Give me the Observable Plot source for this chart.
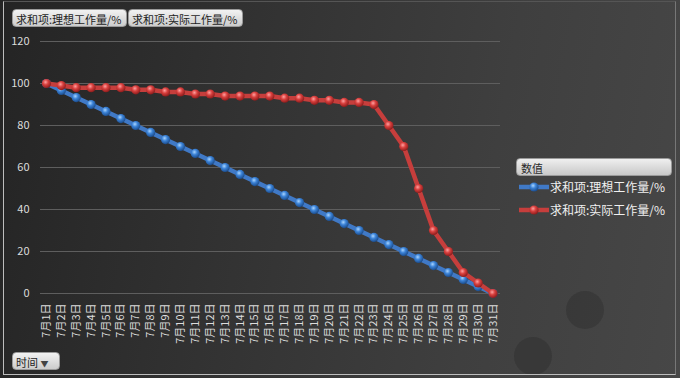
<!DOCTYPE html>
<html>
<head>
<meta charset="utf-8">
<script src="https://cdn.jsdelivr.net/npm/d3@7"></script>
<script src="https://cdn.jsdelivr.net/npm/@observablehq/plot@0.6"></script>
<style>
  html, body { margin: 0; padding: 0; background: #2a2a2a; }
  #wrap {
    position: relative; width: 680px; height: 378px; overflow: hidden;
    background: linear-gradient(100deg, #242424 0%, #323232 35%, #3f3f3f 70%, #474747 100%);
    font-family: "Noto Sans CJK SC", "Noto Sans", sans-serif;
  }
  #frame { position: absolute; left: 3px; top: 1px; width: 673px; height: 374px; border: 1px solid #bdbdbd; border-top-color: #555; border-right-color: #777; box-sizing: border-box; pointer-events: none; }
  .bubble { position: absolute; border-radius: 50%; background: rgba(20,20,20,0.2); }
  .btn {
    position: absolute; height: 18px; line-height: 18px; font-size: 11px; color: #1e1e1e;
    background: linear-gradient(#f2f2f2, #cccccc); border: 1px solid #9a9a9a; border-radius: 4px;
    padding: 0 3px; box-sizing: border-box; white-space: nowrap;
  }
  #legend { position: absolute; left: 516px; top: 158px; width: 156px; }
  #legend .head {
    height: 18px; line-height: 18px; font-size: 11px; color: #2a2a2a; padding-left: 4px;
    background: linear-gradient(#efefef, #c8c8c8); border: 1px solid #9a9a9a; border-radius: 4px; box-sizing: border-box;
  }
  .item { position: relative; height: 23px; font-size: 12px; color: #f0f0f0; }
  .item svg { position: absolute; left: 2px; top: 4px; }
  .item span { position: absolute; left: 34px; top: 2px; white-space: nowrap; }
  svg.plot { position: absolute; left: 0; top: 0; }
</style>
</head>
<body>
<div id="wrap">
  <div class="bubble" style="left:566px;top:291px;width:38px;height:38px;"></div>
  <div class="bubble" style="left:514px;top:337px;width:38px;height:38px;"></div>
  <div id="chart"></div>
  <div class="btn" style="left:12px;top:9px;width:115px;">求和项:理想工作量/%</div>
  <div class="btn" style="left:128px;top:9px;width:115px;">求和项:实际工作量/%</div>
  <div class="btn" style="left:12px;top:352px;width:48px;">时间 <span style="font-size:8px;color:#444;">▼</span></div>
  <div id="legend"></div>
  <div id="frame"></div>
</div>
<script>
const days = ["7月1日","7月2日","7月3日","7月4日","7月5日","7月6日","7月7日","7月8日","7月9日","7月10日",
  "7月11日","7月12日","7月13日","7月14日","7月15日","7月16日","7月17日","7月18日","7月19日","7月20日",
  "7月21日","7月22日","7月23日","7月24日","7月25日","7月26日","7月27日","7月28日","7月29日","7月30日","7月31日"];
const ideal = [100,96.7,93.3,90,86.7,83.3,80,76.7,73.3,70,66.7,63.3,60,56.7,53.3,50,46.7,43.3,40,36.7,33.3,30,26.7,23.3,20,16.7,13.3,10,6.7,3.3,0];
const actual = [100,99,98,98,98,98,97,97,96,96,95,95,94,94,94,94,93,93,92,92,91,91,90,80,70,50,30,20,10,5,0];
const seriesNames = ["求和项:理想工作量/%","求和项:实际工作量/%"];
const yTicks = [0,20,40,60,80,100,120];

const colors = { blue: "#4079c6", red: "#c63e3c" };
const data = days.map((d, i) => ({ i: i + 1, day: d, ideal: ideal[i], actual: actual[i] }));

const plot = Plot.plot({
  width: 680, height: 378,
  marginLeft: 40, marginRight: 180, marginTop: 41, marginBottom: 85,
  style: { background: "transparent", color: "#dcdcdc", fontSize: "11px", fontFamily: "'Noto Sans CJK SC', 'Noto Sans', sans-serif", overflow: "visible" },
  x: { domain: [0.6, 31.5] },
  y: { domain: [0, 120] },
  marks: [
    Plot.ruleY(yTicks, { stroke: "#5e5e5e", strokeWidth: 1 }),
    Plot.axisY({ ticks: yTicks, tickSize: 0, tickPadding: 11, label: null, fill: "#dcdcdc" }),
    Plot.axisX({ ticks: data.map(d => d.i), tickFormat: i => days[i - 1], tickRotate: -90, tickSize: 0, tickPadding: 10, label: null, fill: "#dcdcdc" }),
    Plot.line(data, { x: "i", y: "ideal", stroke: colors.blue, strokeWidth: 4.5 }),
    Plot.dot(data, { x: "i", y: "ideal", r: 4.6, fill: "url(#gBlue)", stroke: "none" }),
    Plot.line(data, { x: "i", y: "actual", stroke: colors.red, strokeWidth: 4.5 }),
    Plot.dot(data, { x: "i", y: "actual", r: 4.6, fill: "url(#gRed)", stroke: "none" })
  ]
});

const defs = d3.select(plot).insert("defs", ":first-child");
function grad(id, c0, c1, c2) {
  const g = defs.append("radialGradient").attr("id", id).attr("cx", "40%").attr("cy", "35%").attr("r", "65%");
  g.append("stop").attr("offset", "0%").attr("stop-color", c0);
  g.append("stop").attr("offset", "45%").attr("stop-color", c1);
  g.append("stop").attr("offset", "100%").attr("stop-color", c2);
}
grad("gBlue", "#a8d4ff", "#3b82d6", "#1b4c8c");
grad("gRed", "#ffa0a0", "#d8403e", "#8c1c1c");
document.getElementById("chart").appendChild(plot);

// legend
const legend = document.getElementById("legend");
legend.innerHTML = `<div class="head">数值</div>`;
[["gBlue", colors.blue], ["gRed", colors.red]].forEach(([g, c], k) => {
  const it = document.createElement("div");
  it.className = "item";
  it.innerHTML = `<svg width="32" height="14"><defs>${plot.querySelector("defs").innerHTML}</defs>
    <line x1="1" y1="7" x2="31" y2="7" stroke="${c}" stroke-width="4.5"/>
    <circle cx="16" cy="7" r="4.6" fill="url(#${g})"/></svg><span>${seriesNames[k]}</span>`;
  legend.appendChild(it);
});
</script>
</body>
</html>
